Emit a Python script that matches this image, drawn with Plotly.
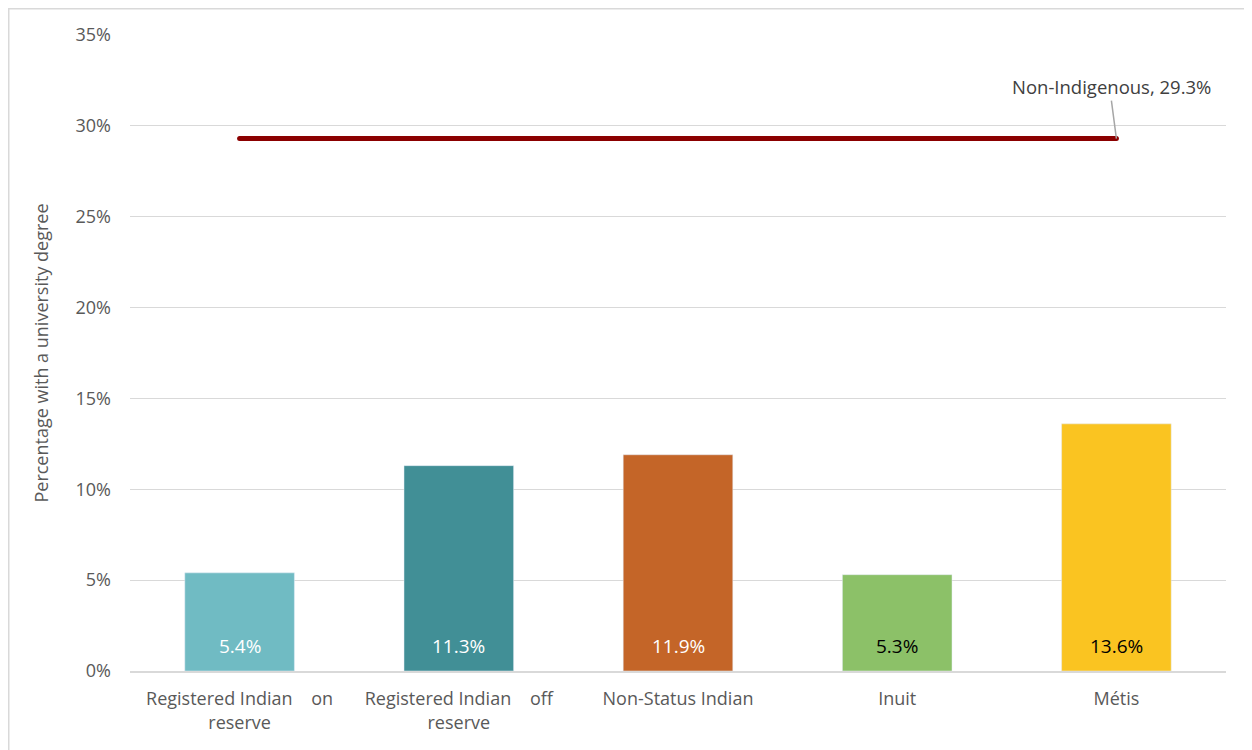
import plotly.graph_objects as go

categories = ["Registered Indian\u00a0\u00a0\u00a0 on<br>reserve",
              "Registered Indian\u00a0\u00a0\u00a0 off<br>reserve",
              "Non-Status Indian", "Inuit", "Métis"]
values = [5.4, 11.3, 11.9, 5.3, 13.6]
bar_colors = ["#70BBC3", "#418F96", "#C46528", "#8CC168", "#FAC421"]
label_colors = ["white", "white", "white", "black", "black"]
benchmark_name = "Non-Indigenous"
benchmark_value = 29.3
y_ticks = [0, 5, 10, 15, 20, 25, 30, 35]

# page body has an 8px margin, so the figure is drawn 8px in from the window corner
W, H = 1244, 742
L, R, T, B = 122, 26, 27, 79

fig = go.Figure()
fig.add_trace(go.Bar(x=categories, y=values, marker_color=bar_colors, width=0.5,
                     hoverinfo="skip", showlegend=False))
fig.add_trace(go.Scatter(x=[categories[0], categories[-1]], y=[benchmark_value] * 2,
                         mode="lines+markers", line=dict(color="#8B0000", width=5),
                         marker=dict(color="#8B0000", size=5),
                         showlegend=False, hoverinfo="skip"))

annotations = []
for c, v, col in zip(categories, values, label_colors):
    annotations.append(dict(x=c, y=0, text=f"{v:.1f}%", showarrow=False,
                            yanchor="bottom", yshift=10,
                            font=dict(size=19, color=col, family="Open Sans")))
annotations.append(dict(x=categories[-1], y=benchmark_value,
                        text=f"{benchmark_name}, {benchmark_value}%",
                        showarrow=True, arrowhead=0, arrowwidth=1.5, arrowcolor="#A6A6A6",
                        ax=-5, ay=-38, xanchor="center", yanchor="bottom",
                        font=dict(size=18.5, color="#404040", family="Open Sans")))

pw, ph = W - L - R, H - T - B
fig.add_shape(type="rect", xref="paper", yref="paper",
              x0=(0.75 - L) / pw, x1=(1300 - L) / pw,
              y0=(H - B - 800) / ph, y1=(H - B - 0.75) / ph,
              line=dict(color="#D9D9D9", width=1.5), fillcolor="rgba(0,0,0,0)", layer="below")

fig.update_layout(
    width=W, height=H, margin=dict(l=L, r=R, t=T, b=B),
    plot_bgcolor="white", paper_bgcolor="white",
    font=dict(family="Open Sans", color="#595959", size=18),
    annotations=annotations, bargap=0.5,
    xaxis=dict(showgrid=False, showline=True, linecolor="#D9D9D9", linewidth=1.5,
               tickfont=dict(size=18, color="#595959"), ticks="", fixedrange=True,
               ticklabelstandoff=11),
    yaxis=dict(range=[0, 35], tickvals=y_ticks, ticktext=[f"{t}%" for t in y_ticks],
               showgrid=True, gridcolor="#D9D9D9", gridwidth=1, zeroline=False,
               tickfont=dict(size=18, color="#595959"), ticklabelstandoff=18,
               title=dict(text="Percentage with a university degree", standoff=22,
                          font=dict(size=18, color="#595959"))),
)
fig.write_html("out.html")
